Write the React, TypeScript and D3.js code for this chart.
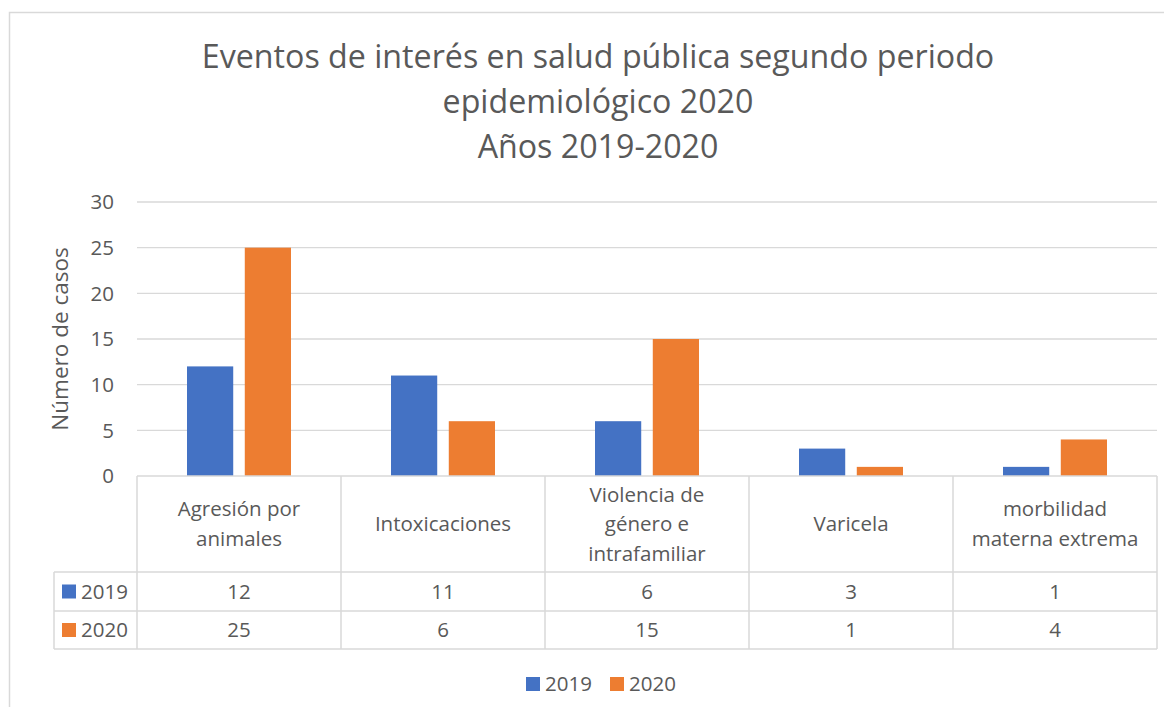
import React from "react";
import * as d3 from "d3";

const categories = [
  "Agresión por animales",
  "Intoxicaciones",
  "Violencia de género e intrafamiliar",
  "Varicela",
  "morbilidad materna extrema",
];
const categoryLines = [
  ["Agresión por", "animales"],
  ["Intoxicaciones"],
  ["Violencia de", "género e", "intrafamiliar"],
  ["Varicela"],
  ["morbilidad", "materna extrema"],
];
const seriesNames = ["2019", "2020"];
const values2019 = [12, 11, 6, 3, 1];
const values2020 = [25, 6, 15, 1, 4];
const yTicks = [0, 5, 10, 15, 20, 25, 30];
const titleLines = [
  "Eventos de interés en salud pública segundo periodo",
  "epidemiológico 2020",
  "Años 2019-2020",
];

const colors = ["#4472C4", "#ED7D31"];
const FONT = "'Open Sans', Lato, sans-serif";
const TEXT = "#595959";
const GRID = "#D9D9D9";

export default function App() {
  const W = 1172;
  const H = 715;
  const left = 137;
  const right = 1157;
  const top = 202;
  const bottom = 476;
  const headerBottom = 572;
  const row1Bottom = 611;
  const row2Bottom = 649;
  const tableLeft = 54;

  const x = d3.scaleBand<string>().domain(categories).range([left, right]).padding(0);
  const bw = x.bandwidth();
  const xs = d3
    .scaleBand<string>()
    .domain(seriesNames)
    .range([bw / 2 - 52, bw / 2 + 52])
    .paddingInner(0.2);
  const y = d3.scaleLinear().domain([0, 30]).range([bottom, top]);
  const series = [values2019, values2020];

  const headerMid = (bottom + headerBottom) / 2;
  const lineH = 29.5;
  const fs = 20.5;

  return (
    <div style={{ margin: -8 }}>
      <svg width={W} height={H} style={{ display: "block", fontFamily: FONT }}>
        <rect x={0} y={0} width={W} height={H} fill="#fff" />
        <rect x={9.5} y={12.5} width={W + 20} height={H + 20} fill="none" stroke={GRID} strokeWidth={1.5} />

        {titleLines.map((t, i) => (
          <text key={i} x={598} y={68 + i * 45} textAnchor="middle" fontSize={32.2} fill={TEXT}>
            {t}
          </text>
        ))}

        {yTicks.map((t) => (
          <g key={t}>
            {t > 0 && <line x1={left} x2={right} y1={y(t)} y2={y(t)} stroke={GRID} strokeWidth={1.3} />}
            <text x={114} y={y(t)} dy="0.35em" textAnchor="end" fontSize={fs} fill={TEXT}>
              {t}
            </text>
          </g>
        ))}

        <text
          transform={`translate(68,${(top + bottom) / 2}) rotate(-90)`}
          textAnchor="middle"
          fontSize={22.5}
          fill={TEXT}
        >
          Número de casos
        </text>

        {categories.map((c, ci) =>
          series.map((vals, si) => (
            <rect
              key={c + si}
              x={(x(c) as number) + (xs(seriesNames[si]) as number)}
              y={y(vals[ci])}
              width={xs.bandwidth()}
              height={y(0) - y(vals[ci])}
              fill={colors[si]}
            />
          ))
        )}

        <g stroke={GRID} strokeWidth={1.5} fill="none">
          <line x1={left} x2={right} y1={bottom} y2={bottom} />
          <line x1={tableLeft} x2={right} y1={headerBottom} y2={headerBottom} />
          <line x1={tableLeft} x2={right} y1={row1Bottom} y2={row1Bottom} />
          <line x1={tableLeft} x2={right} y1={row2Bottom} y2={row2Bottom} />
          <line x1={tableLeft} x2={tableLeft} y1={headerBottom} y2={row2Bottom} />
          {categories.map((c) => (
            <line key={c} x1={x(c)} x2={x(c)} y1={bottom} y2={row2Bottom} />
          ))}
          <line x1={right} x2={right} y1={bottom} y2={row2Bottom} />
        </g>

        {categories.map((c, ci) => {
          const lines = categoryLines[ci];
          const cx = (x(c) as number) + bw / 2;
          return (
            <g key={c}>
              {lines.map((l, li) => (
                <text
                  key={li}
                  x={cx}
                  y={headerMid + (li - (lines.length - 1) / 2) * lineH}
                  dy="0.35em"
                  textAnchor="middle"
                  fontSize={fs}
                  fill={TEXT}
                >
                  {l}
                </text>
              ))}
              {series.map((vals, si) => (
                <text
                  key={si}
                  x={cx}
                  y={si === 0 ? (headerBottom + row1Bottom) / 2 : (row1Bottom + row2Bottom) / 2}
                  dy="0.35em"
                  textAnchor="middle"
                  fontSize={fs}
                  fill={TEXT}
                >
                  {vals[ci]}
                </text>
              ))}
            </g>
          );
        })}

        {seriesNames.map((s, si) => {
          const cy = si === 0 ? (headerBottom + row1Bottom) / 2 : (row1Bottom + row2Bottom) / 2;
          return (
            <g key={s}>
              <rect x={62} y={cy - 7} width={14} height={14} fill={colors[si]} />
              <text x={81} y={cy} dy="0.35em" fontSize={fs} fill={TEXT}>
                {s}
              </text>
            </g>
          );
        })}

        {seriesNames.map((s, si) => (
          <g key={"lg" + s}>
            <rect x={526 + si * 84} y={677} width={14} height={14} fill={colors[si]} />
            <text x={545 + si * 84} y={684} dy="0.35em" fontSize={fs} fill={TEXT}>
              {s}
            </text>
          </g>
        ))}
      </svg>
    </div>
  );
}
